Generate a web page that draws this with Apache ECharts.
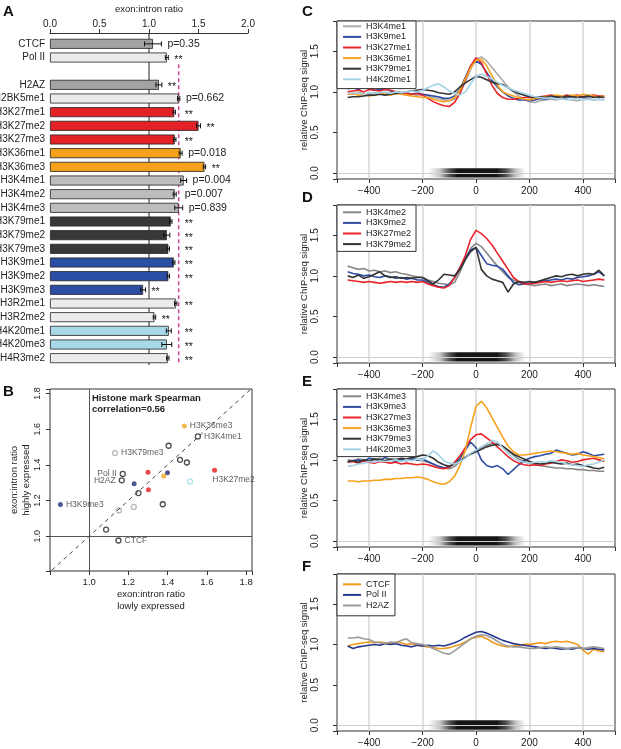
<!DOCTYPE html>
<html><head><meta charset="utf-8">
<script src="https://cdn.jsdelivr.net/npm/echarts/dist/echarts.min.js"></script>
<style>html,body{margin:0;padding:0;background:#fff}#c{width:621px;height:749px}</style>
</head><body><div id="c"></div>
<script>
// ---------- Panel A data ----------
const aCategories = ['CTCF','Pol II',' ','H2AZ','H2BK5me1','H3K27me1','H3K27me2','H3K27me3','H3K36me1','H3K36me3','H3K4me1','H3K4me2','H3K4me3','H3K79me1','H3K79me2','H3K79me3','H3K9me1','H3K9me2','H3K9me3','H3R2me1','H3R2me2','H4K20me1','H4K20me3','H4R3me2'];
const aRatio = [1.04,1.18,null,1.10,1.30,1.255,1.50,1.26,1.32,1.56,1.35,1.26,1.30,1.22,1.18,1.195,1.25,1.195,0.94,1.27,1.055,1.20,1.18,1.19];
const aErr   = [0.085,0.015,null,0.03,0.012,0.012,0.02,0.012,0.015,0.012,0.03,0.015,0.04,0.012,0.03,0.012,0.012,0.012,0.025,0.012,0.012,0.025,0.05,0.012];
const aNote  = ['p=0.35','**','','**','p=0.662','**','**','**','p=0.018','**','p=0.004','p=0.007','p=0.839','**','**','**','**','**','**','**','**','**','**','**'];
const aThreshold = 1.3;
const aTicks = [0,0.5,1,1.5,2];

// ---------- Panel B data ----------
const bNames = ['CTCF','Pol II','H2AZ','H3K36me3','H3K4me1','H3K4me2','H3K79me3','H3K4me3','H2BK5me1','H3K27me1','H3K9me1','H3K36me1','H3K9me2','H3K27me3','H3R2me1','H3K27me2','H4K20me1','H3K9me3','H3K79me1','H3K79me2','H3R2me2','H4R3me2'];
const bGroup = ['other','other','other','H3K36','other','other','H3K79','other','other','H3K27','H3K9','H3K36','H3K9','H3K27','other','H3K27','H4K20','H3K9','H3K79','H3K79','other','other'];
const bX = [1.149,1.171,1.166,1.485,1.554,1.405,1.131,1.463,1.498,1.300,1.399,1.380,1.229,1.302,1.251,1.639,1.514,0.853,1.151,1.227,1.375,1.086];
const bY = [0.976,1.349,1.313,1.618,1.559,1.507,1.466,1.428,1.413,1.358,1.356,1.337,1.294,1.261,1.242,1.369,1.307,1.177,1.144,1.164,1.179,1.037];
const bLabeled = ['CTCF','Pol II','H2AZ','H3K36me3','H3K4me1','H3K79me3','H3K27me2','H3K9me3'];
const bTicks = [1.0,1.2,1.4,1.6,1.8];

// ---------- Panels C-F data ----------
const xPos = [-480,-460,-440,-420,-400,-380,-360,-340,-320,-300,-280,-260,-240,-220,-200,-180,-160,-140,-120,-100,-80,-60,-40,-20,0,20,40,60,80,100,120,140,160,180,200,220,240,260,280,300,320,340,360,380,400,420,440,460,480];
const xTicks = [-400,-200,0,200,400];
const yTicks = [0,0.5,1,1.5];

const cNames = ['H3K4me1','H3K9me1','H3K27me1','H3K36me1','H3K79me1','H4K20me1'];
const cH3K4me1 = [0.98,0.97,0.99,0.98,0.97,0.99,0.98,0.97,0.99,1.00,0.98,0.99,0.97,0.96,0.97,0.95,0.93,0.92,0.90,0.89,0.91,0.98,1.12,1.28,1.40,1.43,1.38,1.30,1.22,1.14,1.06,1.00,0.95,0.91,0.88,0.87,0.89,0.90,0.91,0.90,0.92,0.91,0.90,0.89,0.91,0.92,0.90,0.91,0.90];
const cH3K9me1 = [1.04,1.05,1.03,1.06,1.04,1.02,1.03,1.04,1.01,1.00,0.99,0.98,0.97,0.99,0.97,0.96,0.95,0.94,0.92,0.92,0.95,1.03,1.18,1.32,1.38,1.34,1.24,1.14,1.06,1.00,0.95,0.92,0.90,0.90,0.89,0.90,0.92,0.91,0.93,0.94,0.92,0.93,0.94,0.95,0.93,0.94,0.95,0.93,0.94];
const cH3K27me1 = [1.00,1.01,1.02,1.00,1.03,1.02,1.01,1.03,1.02,1.00,0.99,0.98,0.97,0.98,0.96,0.92,0.88,0.85,0.83,0.82,0.87,0.98,1.15,1.32,1.42,1.36,1.22,1.08,0.98,0.93,0.91,0.91,0.92,0.93,0.93,0.92,0.94,0.95,0.96,0.95,0.94,0.96,0.95,0.96,0.94,0.95,0.96,0.95,0.95];
const cH3K36me1 = [0.97,0.98,0.96,0.97,0.95,0.96,0.98,0.97,0.96,0.98,0.97,0.96,0.95,0.94,0.93,0.93,0.91,0.89,0.88,0.89,0.93,1.02,1.16,1.30,1.39,1.40,1.32,1.20,1.08,1.00,0.97,0.95,0.93,0.91,0.90,0.92,0.93,0.94,0.95,0.96,0.95,0.94,0.96,0.95,0.97,0.96,0.95,0.94,0.95];
const cH3K79me1 = [0.93,0.94,0.94,0.95,0.96,0.96,0.97,0.96,0.97,0.98,0.99,1.00,1.01,1.02,1.03,1.02,1.01,0.99,0.98,0.97,1.00,1.06,1.11,1.15,1.19,1.18,1.15,1.12,1.10,1.09,1.05,1.01,0.98,0.96,0.94,0.93,0.94,0.93,0.95,0.94,0.93,0.95,0.94,0.93,0.94,0.95,0.93,0.94,0.93];
const cH4K20me1 = [0.98,0.99,0.98,0.97,0.99,0.98,0.99,1.00,0.98,1.00,0.99,1.00,1.01,1.00,1.02,1.05,1.08,1.10,1.06,1.01,0.98,0.96,1.00,1.10,1.19,1.22,1.19,1.16,1.12,1.08,1.05,1.02,1.00,0.98,0.96,0.94,0.93,0.92,0.93,0.91,0.92,0.90,0.91,0.92,0.90,0.91,0.90,0.91,0.90];

const dNames = ['H3K4me2','H3K9me2','H3K27me2','H3K79me2'];
const dH3K4me2 = [1.12,1.10,1.08,1.09,1.06,1.07,1.05,1.06,1.04,1.05,1.03,1.02,1.00,0.99,0.98,0.95,0.93,0.91,0.90,0.89,0.92,1.05,1.20,1.34,1.40,1.36,1.28,1.20,1.12,1.05,0.98,0.95,0.92,0.90,0.89,0.88,0.89,0.90,0.88,0.89,0.90,0.88,0.89,0.90,0.89,0.88,0.89,0.88,0.87];
const dH3K9me2 = [1.05,1.03,1.02,1.00,1.01,0.99,0.98,1.00,0.99,0.97,0.98,0.96,0.97,0.95,0.95,0.92,0.89,0.87,0.86,0.90,0.98,1.10,1.22,1.32,1.35,1.25,1.15,1.13,1.12,1.08,1.00,0.92,0.89,0.90,0.91,0.92,0.93,0.94,0.95,0.96,0.95,0.97,0.96,0.98,0.99,1.00,1.02,1.05,1.00];
const dH3K27me2 = [0.95,0.94,0.93,0.92,0.93,0.92,0.91,0.92,0.93,0.92,0.93,0.92,0.93,0.92,0.93,0.90,0.88,0.86,0.85,0.88,0.98,1.10,1.25,1.45,1.56,1.52,1.46,1.38,1.28,1.18,1.08,0.98,0.93,0.90,0.90,0.91,0.92,0.93,0.92,0.93,0.94,0.93,0.94,0.95,0.93,0.94,0.95,0.96,0.95];
const dH3K79me2 = [1.00,0.98,1.01,0.97,0.99,1.02,1.05,1.00,0.98,0.99,0.97,0.98,0.97,0.98,0.98,0.94,0.90,0.95,1.02,1.01,1.00,1.08,1.20,1.30,1.35,1.08,1.00,0.96,0.94,0.92,0.80,0.90,0.93,0.92,0.93,0.92,0.94,0.96,0.98,1.00,0.99,1.01,1.02,1.00,1.02,1.03,1.02,1.07,1.00];

const eNames = ['H3K4me3','H3K9me3','H3K27me3','H3K36me3','H3K79me3','H4K20me3'];
const eH3K4me3 = [1.00,0.99,1.01,1.00,0.98,1.00,1.02,0.99,1.00,1.01,0.99,1.00,1.01,1.00,0.99,0.97,0.95,0.92,0.90,0.89,0.92,0.98,1.03,1.08,1.12,1.15,1.18,1.20,1.20,1.16,1.11,1.06,1.01,0.98,0.96,0.94,0.93,0.92,0.91,0.90,0.90,0.89,0.89,0.88,0.88,0.87,0.87,0.86,0.86];
const eH3K9me3 = [0.97,0.99,1.00,0.98,1.02,1.01,0.99,1.03,1.00,0.98,1.01,0.99,1.02,1.00,1.01,0.98,0.95,0.92,0.90,0.92,0.96,1.02,1.12,1.22,1.15,1.00,0.93,0.91,0.93,0.89,0.82,0.88,0.94,0.99,1.02,1.04,1.05,1.07,1.08,1.12,1.10,1.08,1.06,1.07,1.10,1.08,1.05,1.06,1.07];
const eH3K27me3 = [0.97,0.98,0.96,0.99,0.97,0.96,0.98,0.97,0.96,0.97,0.95,0.96,0.95,0.94,0.95,0.94,0.92,0.90,0.89,0.91,0.97,1.05,1.15,1.25,1.31,1.32,1.27,1.22,1.16,1.10,1.04,0.99,0.96,0.94,0.93,0.94,0.93,0.95,0.96,0.98,1.00,0.99,0.97,0.98,1.00,1.01,1.02,1.00,0.98];
const eH3K36me3 = [0.74,0.74,0.73,0.74,0.74,0.75,0.75,0.76,0.76,0.77,0.77,0.78,0.78,0.79,0.78,0.76,0.73,0.71,0.70,0.73,0.80,0.93,1.12,1.40,1.66,1.72,1.64,1.52,1.40,1.28,1.17,1.10,1.06,1.06,1.07,1.08,1.09,1.10,1.11,1.10,1.09,1.08,1.07,1.08,1.06,1.05,1.04,1.03,1.01];
const eH3K79me3 = [0.98,0.99,0.97,1.00,0.99,1.01,1.00,0.99,1.01,1.00,1.02,1.01,1.03,1.04,1.06,1.05,1.02,0.97,0.94,0.92,0.95,0.99,1.03,1.07,1.10,1.13,1.16,1.18,1.19,1.17,1.12,1.07,1.04,1.01,0.98,0.96,0.95,0.96,0.97,0.96,0.95,0.96,0.94,0.95,0.93,0.92,0.90,0.89,0.91];
const eH4K20me3 = [0.92,0.93,0.95,0.96,0.98,0.97,0.99,0.98,0.99,1.00,0.98,1.00,0.99,1.01,1.00,1.05,1.11,1.06,0.99,0.96,0.95,0.98,1.02,1.08,1.12,1.16,1.20,1.24,1.22,1.15,1.08,1.02,0.99,0.97,0.96,0.97,0.98,0.97,0.99,0.98,0.97,0.95,0.94,0.93,0.92,0.94,0.95,0.97,1.00];

const fNames = ['CTCF','Pol II','H2AZ'];
const fCTCF = [0.98,1.00,1.01,1.02,1.03,1.02,1.03,1.02,1.01,1.03,1.02,1.00,1.01,0.99,0.98,0.97,0.96,0.95,0.95,0.96,0.98,1.00,1.03,1.07,1.09,1.10,1.07,1.03,1.00,0.98,0.97,0.98,0.99,1.00,1.00,1.01,1.02,1.01,1.03,1.04,1.03,1.04,1.02,1.00,0.93,0.88,0.94,0.92,0.91];
const fPolII = [0.98,0.95,0.97,0.98,0.99,1.00,0.99,1.01,1.00,1.01,0.99,0.98,0.97,0.99,0.98,0.99,0.98,0.99,0.98,1.00,1.02,1.05,1.09,1.12,1.15,1.16,1.14,1.11,1.08,1.05,1.03,1.01,1.00,0.99,0.98,0.97,0.96,0.95,0.96,0.95,0.94,0.95,0.94,0.96,0.95,0.94,0.95,0.94,0.93];
const fH2AZ = [1.08,1.08,1.09,1.07,1.06,1.03,1.02,1.01,1.03,1.02,1.05,1.07,1.02,1.01,1.00,0.98,0.95,0.92,0.89,0.88,0.92,0.97,1.02,1.07,1.10,1.12,1.11,1.08,1.04,1.00,0.98,0.97,0.97,0.96,0.95,0.95,0.96,0.97,0.96,0.97,0.96,0.95,0.96,0.96,0.95,0.96,0.97,0.96,0.95];

// ---------- styling helpers ----------
const FONT = "'Liberation Sans', Arial, Helvetica, sans-serif";
function barColor(n){
  if(n==='CTCF'||n==='H2AZ') return '#a3a3a3';
  if(/^H3K27/.test(n)) return '#e42127';
  if(/^H3K36/.test(n)) return '#f7a21c';
  if(/^H3K4me/.test(n)) return '#bdbdbd';
  if(/^H3K79/.test(n)) return '#383838';
  if(/^H3K9/.test(n)) return '#2c4ea4';
  if(/^H4K20/.test(n)) return '#a9d8e8';
  return '#ebebeb';
}
function lineColor(n){
  if(n==='CTCF') return '#f39a1e';
  if(n==='Pol II') return '#27388f';
  if(n==='H2AZ') return '#9a9a9a';
  if(n==='H3K4me1') return '#aaaaaa';
  if(/^H3K4me/.test(n)) return '#888888';
  if(/^H3K27/.test(n)) return '#e8232a';
  if(/^H3K36/.test(n)) return '#f7a21c';
  if(/^H3K79/.test(n)) return '#333333';
  if(/^H3K9/.test(n)) return '#2f4ea3';
  if(/^H4K20/.test(n)) return '#a6d4e6';
  return '#666';
}
function bSymbolStyle(g){
  const filled = {H3K27:'#e31a1c', H3K9:'#1f2e7a', H3K36:'#f5a623'};
  if(filled[g]) return {color:filled[g], borderWidth:0};
  const open = {H4K20:'#9fd8e6', H3K79:'#a8a8a8'};
  return {color:'#fff', borderColor: open[g] || '#222', borderWidth:1.3};
}
const isTick = (list)=> (v)=> list.some(t=>Math.abs(t-v)<1e-9);

// ---------- build option ----------
const grids = [
  {left:50, top:37, width:198, height:328, outerBoundsMode:'none', containLabel:false},
  {left:50, top:389, width:202, height:182, show:true, borderColor:'#333', borderWidth:1, outerBoundsMode:'none', containLabel:false},
];
const xAxes = [
  {type:'value', gridIndex:0, position:'top', offset:4, min:0, max:2, interval:0.5,
   axisLine:{show:true, onZero:false, lineStyle:{color:'#333', width:1}}, axisTick:{show:true, length:4, lineStyle:{color:'#333'}},
   axisLabel:{fontSize:10, color:'#222', margin:4, fontFamily:FONT, formatter:v=>isTick(aTicks)(v)?v.toFixed(1):''},
   splitLine:{show:false},
   name:'exon:intron ratio', nameLocation:'middle', nameGap:19, nameTextStyle:{fontSize:9.5, color:'#222', fontFamily:FONT}},
  {type:'value', gridIndex:1, min:0.80, max:1.83, minInterval:0.2, maxInterval:0.2,
   axisLine:{show:false, onZero:false}, axisTick:{show:true, length:4, lineStyle:{color:'#333'}},
   axisLabel:{fontSize:9.5, color:'#222', margin:6, fontFamily:FONT, formatter:v=>isTick(bTicks)(v)?v.toFixed(1):''},
   splitLine:{show:false},
   name:'exon:intron ratio\nlowly expressed', nameLocation:'middle', nameGap:17,
   nameTextStyle:{fontSize:9.5, color:'#222', fontFamily:FONT, lineHeight:12, verticalAlign:'top'}},
];
const yAxes = [
  {type:'category', gridIndex:0, data:aCategories, inverse:true,
   axisLine:{show:false, onZero:false}, axisTick:{show:false},
   axisLabel:{fontSize:10, color:'#222', margin:5, fontFamily:FONT, interval:0}},
  {type:'value', gridIndex:1, min:0.805, max:1.825, minInterval:0.2, maxInterval:0.2,
   axisLine:{show:false, onZero:false}, axisTick:{show:true, length:4, lineStyle:{color:'#333'}},
   axisLabel:{fontSize:9, color:'#222', margin:8, rotate:90, fontFamily:FONT, formatter:v=>isTick(bTicks)(v)?v.toFixed(1):''},
   splitLine:{show:false},
   name:'exon:intron ratio\nhighly expressed', nameLocation:'middle', nameGap:17, nameRotate:90,
   nameTextStyle:{fontSize:9.5, color:'#222', fontFamily:FONT, lineHeight:12, verticalAlign:'bottom'}},
];

const series = [];
// A: reference lines (behind bars)
series.push({type:'custom', xAxisIndex:0, yAxisIndex:0, z:1, silent:true, data:[[1,0]], encode:{x:0,y:1},
  renderItem(p, api){
    const band = api.size([0,1])[1];
    const xB = api.coord([1,0])[0];
    const yTop = api.coord([1,0])[1] - band/2 - 4;
    const yBot = api.coord([1,aCategories.length-1])[1] + band/2;
    const xP = api.coord([aThreshold,0])[0];
    const yP0 = api.coord([aThreshold,2])[1] - 7;
    return {type:'group', children:[
      {type:'line', shape:{x1:xB,y1:yTop,x2:xB,y2:yBot}, style:{stroke:'#222', lineWidth:1}},
      {type:'line', shape:{x1:xP,y1:yP0,x2:xP,y2:yBot}, style:{stroke:'#d3449a', lineWidth:1.5, lineDash:[4,3]}}
    ]};
  }});
// A: bars
series.push({type:'bar', xAxisIndex:0, yAxisIndex:0, barWidth:10, z:3, silent:true,
  itemStyle:{borderColor:'#222', borderWidth:0.8},
  data: aRatio.map((v,i)=> v==null ? '-' : {value:v, itemStyle:{color:barColor(aCategories[i]), borderColor:'#222', borderWidth:0.8}})});
// A: error bars & annotations
const aErrData = [];
aRatio.forEach((v,i)=>{ if(v!=null) aErrData.push([v, i, aErr[i]]); });
series.push({type:'custom', xAxisIndex:0, yAxisIndex:0, z:4, silent:true, data:aErrData, encode:{x:0,y:1},
  renderItem(p, api){
    const v = api.value(0), i = aErrData[p.dataIndex][1], e = api.value(2);
    const lo = api.coord([v-e, i]), hi = api.coord([v+e, i]);
    const y = lo[1], cap = 2.5, hv = v+e;
    const lx = (hv>1.2 && hv<aThreshold) ? api.coord([aThreshold,i])[0] : hi[0];
    const note = aNote[i];
    const star = note==='**';
    return {type:'group', children:[
      {type:'line', shape:{x1:lo[0],y1:y,x2:hi[0],y2:y}, style:{stroke:'#111', lineWidth:1}},
      {type:'line', shape:{x1:lo[0],y1:y-cap,x2:lo[0],y2:y+cap}, style:{stroke:'#111', lineWidth:1}},
      {type:'line', shape:{x1:hi[0],y1:y-cap,x2:hi[0],y2:y+cap}, style:{stroke:'#111', lineWidth:1}},
      {type:'text', style:{text:note, x:lx+6, y: star ? y+2.5 : y, verticalAlign:'middle', align:'left', font:`10.5px ${FONT}`, fill:'#222'}}
    ]};
  }});

// B: scatter
series.push({type:'scatter', xAxisIndex:1, yAxisIndex:1, z:3, silent:true, symbolSize:5,
  data: bNames.map((n,i)=>{
    const lab = bLabeled.includes(n);
    let pos = 'right', off = [0,0];
    if(n==='Pol II'||n==='H2AZ') pos = 'left';
    if(n==='H3K27me2'){ pos = 'bottom'; off = [19,-1]; }
    return {name:n, value:[bX[i], bY[i]], itemStyle:bSymbolStyle(bGroup[i]),
      label:{show:lab, position:pos, offset:off, distance:3, formatter:'{b}', fontSize:8.5, color:'#333', fontFamily:FONT}};
  }),
  markLine:{silent:true, symbol:'none', label:{show:false}, animation:false,
    data:[
      {xAxis:1, lineStyle:{color:'#555', width:1, type:'solid'}},
      {yAxis:1, lineStyle:{color:'#555', width:1, type:'solid'}},
      [{coord:[0.81,0.81], lineStyle:{color:'#444', width:1, type:[4,4]}},{coord:[1.82,1.82]}]
    ]}});

// C-F
const panels = [
  {top:21, height:158, names:cNames, vals:[cH3K4me1,cH3K9me1,cH3K27me1,cH3K36me1,cH3K79me1,cH4K20me1], pad:[0,5,4,6]},
  {top:205, height:158, names:dNames, vals:[dH3K4me2,dH3K9me2,dH3K27me2,dH3K79me2], pad:[2,5,2,6]},
  {top:389, height:158, names:eNames, vals:[eH3K4me3,eH3K9me3,eH3K27me3,eH3K36me3,eH3K79me3,eH4K20me3], pad:[2,5,2,6]},
  {top:574, height:157, names:fNames, vals:[fCTCF,fPolII,fH2AZ], pad:[5,5,5,6]},
];
const legends = [];
const gradient = new echarts.graphic.LinearGradient(0,0,1,0,[
  {offset:0, color:'rgba(20,20,20,0)'},{offset:0.12, color:'rgba(20,20,20,0.25)'},
  {offset:0.22, color:'rgba(20,20,20,0.75)'},{offset:0.3, color:'rgba(20,20,20,1)'},
  {offset:0.7, color:'rgba(20,20,20,1)'},{offset:0.8, color:'rgba(20,20,20,0.75)'},
  {offset:0.9, color:'rgba(20,20,20,0.25)'},{offset:1, color:'rgba(20,20,20,0)'}]);
panels.forEach((pn, j)=>{
  const k = j+2;
  grids.push({left:337, top:pn.top, width:278, height:pn.height, show:true, borderColor:'#333', borderWidth:1, outerBoundsMode:'none', containLabel:false});
  xAxes.push({type:'value', gridIndex:k, min:-520, max:520, minInterval:200, maxInterval:200,
    axisLine:{show:false, onZero:false}, axisTick:{show:true, length:4, lineStyle:{color:'#333'}},
    axisLabel:{fontSize:10, color:'#222', margin:7, fontFamily:FONT, formatter:v=>isTick(xTicks)(v)?String(v).replace('-','\u2212'):''},
    splitLine:{show:true, showMinLine:false, showMaxLine:false, lineStyle:{color:'#d6d6d6', width:1.5}}});
  yAxes.push({type:'value', gridIndex:k, min:-0.072, max:1.872, minInterval:0.5, maxInterval:0.5,
    axisLine:{show:false, onZero:false}, axisTick:{show:true, length:4, lineStyle:{color:'#333'}},
    axisLabel:{fontSize:10, color:'#222', margin:17, rotate:90, fontFamily:FONT, formatter:v=>isTick(yTicks)(v)?v.toFixed(1):''},
    splitLine:{show:false},
    name:'relative ChIP-seq signal', nameLocation:'middle', nameGap:27, nameRotate:90,
    nameTextStyle:{fontSize:9.5, color:'#222', fontFamily:FONT}});
  pn.names.forEach((n, s)=>{
    const c = lineColor(n);
    const ser = {type:'line', name:n, xAxisIndex:k, yAxisIndex:k, z:2, silent:true,
      data: xPos.map((x,i)=>[x, pn.vals[s][i]]), showSymbol:false, symbol:'none',
      lineStyle:{width:1.6, color:c}, itemStyle:{color:c}};
    if(s===0){
      ser.markLine = {silent:true, symbol:'none', label:{show:false}, animation:false,
        lineStyle:{color:'#cfcfcf', width:1.2, type:'solid'}, data:[{yAxis:0}]};
      ser.markArea = {silent:true, animation:false, itemStyle:{color:gradient}, label:{show:false},
        data:[[{coord:[-178,-0.055]},{coord:[185,0.06]}]]};
    }
    series.push(ser);
  });
  legends.push({orient:'vertical', left:337, top:pn.top, data:pn.names, icon:'rect', itemWidth:18, itemHeight:2,
    itemGap:0, padding:pn.pad, borderColor:'#333', borderWidth:1, backgroundColor:'#fff', borderRadius:0,
    selectedMode:false, z:10, textStyle:{fontSize:9, lineHeight:10.6, color:'#222', fontFamily:FONT}});
});

const letter = (t, l, tp)=>({type:'text', left:l, top:tp, z:20, style:{text:t, font:`bold 15px ${FONT}`, fill:'#111'}});
const option = {
  animation:false,
  backgroundColor:'#fff',
  textStyle:{fontFamily:FONT},
  grid:grids, xAxis:xAxes, yAxis:yAxes, series:series, legend:legends,
  graphic:[
    letter('A',3,4), letter('B',3,384), letter('C',302,4), letter('D',302,190), letter('E',302,374), letter('F',302,559),
    {type:'text', left:92, top:393, z:20, style:{text:'Histone mark Spearman\ncorrelation=0.56', font:`bold 9.5px ${FONT}`, fill:'#222', lineHeight:11}}
  ]
};
const chart = echarts.init(document.getElementById('c'), null, {renderer:'canvas', width:621, height:749});
chart.setOption(option);
</script></body></html>
